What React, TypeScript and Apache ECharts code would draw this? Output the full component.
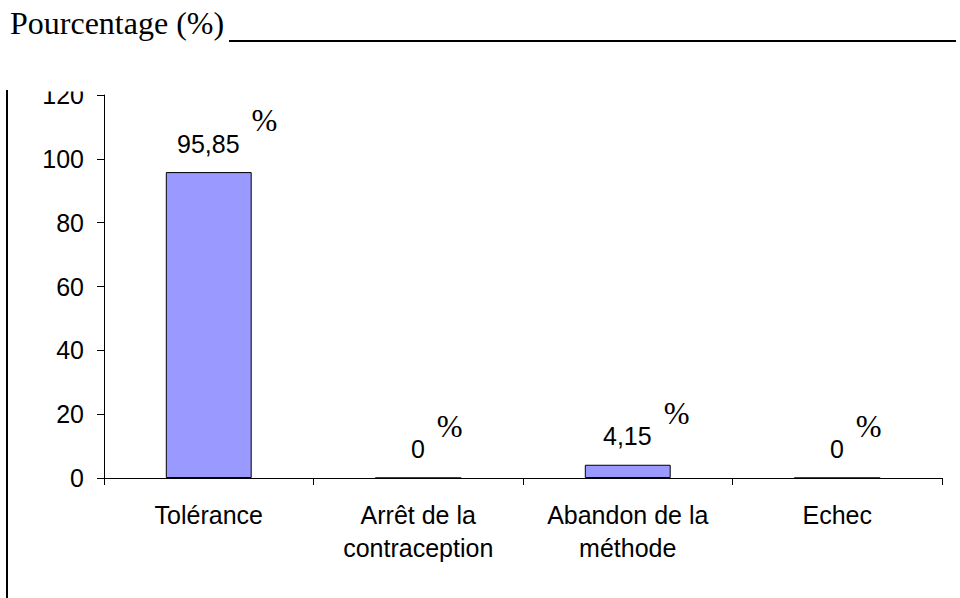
import React, { useEffect, useRef } from "react";
import * as echarts from "echarts";

// Issue of the contraceptive method, share of women (%)
const categories: string[] = [
  "Tolérance",
  "Arrêt de la\ncontraception",
  "Abandon de la\nméthode",
  "Echec",
];
const percentages: number[] = [95.85, 0, 4.15, 0];
const yTicks = { min: 0, max: 120, interval: 20 };
const titleText = "Pourcentage (%)";

const SANS = "Liberation Sans";
const SERIF = "Liberation Serif";

const fmt = (v: number) => String(v).replace(".", ",");

export default function App() {
  const ref = useRef<HTMLDivElement>(null);

  useEffect(() => {
    if (!ref.current) return;
    const chart = echarts.init(ref.current, undefined, { renderer: "svg" });
    chart.setOption({
      animation: false,
      backgroundColor: "#ffffff",
      grid: { left: 104, right: 18, top: 95, bottom: 120, containLabel: false },
      xAxis: {
        type: "category",
        data: categories,
        axisLine: { show: true, lineStyle: { color: "#000", width: 1 } },
        axisTick: { show: true, length: 7, lineStyle: { color: "#000" } },
        axisLabel: {
          color: "#000",
          fontFamily: SANS,
          fontSize: 25,
          lineHeight: 33,
          margin: 20,
          interval: 0,
        },
        splitLine: { show: false },
      },
      yAxis: {
        type: "value",
        min: yTicks.min,
        max: yTicks.max,
        interval: yTicks.interval,
        axisLine: { show: true, lineStyle: { color: "#000", width: 1 } },
        axisTick: { show: true, length: 7, lineStyle: { color: "#000" } },
        axisLabel: {
          color: "#000",
          fontFamily: SANS,
          fontSize: 25,
          margin: 20,
        },
        splitLine: { show: false },
      },
      series: [
        {
          type: "bar",
          data: percentages,
          barWidth: "41%",
          itemStyle: { color: "#9999FF", borderColor: "#000", borderWidth: 1 },
          label: {
            show: true,
            position: "top",
            distance: 16,
            offset: [18.5, 0],
            fontFamily: SANS,
            formatter: (p: any) => `{v|${fmt(p.value)}}{p|%}`,
            rich: {
              v: {
                fontFamily: SANS,
                fontSize: 25,
                color: "#000",
                verticalAlign: "bottom",
              },
              p: {
                fontFamily: SERIF,
                fontSize: 31,
                color: "#000",
                verticalAlign: "bottom",
                padding: [0, 0, 20, 12],
              },
            },
          },
        },
      ],
      graphic: [
        {
          type: "text",
          x: 10,
          y: 23,
          style: {
            text: titleText,
            font: `32px ${SERIF}`,
            fill: "#000",
            verticalAlign: "middle",
          },
        },
        {
          type: "line",
          shape: { x1: 229, y1: 41, x2: 956, y2: 41 },
          style: { stroke: "#000", lineWidth: 2 },
        },
        {
          type: "line",
          shape: { x1: 7, y1: 90, x2: 7, y2: 598 },
          style: { stroke: "#000", lineWidth: 2 },
        },
        {
          type: "rect",
          z: 100,
          shape: { x: 20, y: 50, width: 80, height: 41.5 },
          style: { fill: "#ffffff" },
        },
      ],
    });
    return () => chart.dispose();
  }, []);

  return (
    <div
      ref={ref}
      style={{ position: "fixed", left: 0, top: 0, width: 960, height: 598 }}
    />
  );
}
